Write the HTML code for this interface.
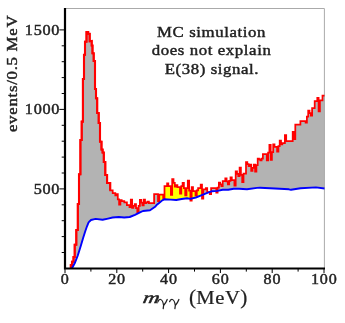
<!DOCTYPE html>
<html><head><meta charset="utf-8"><style>
html,body{margin:0;padding:0;background:#fff;}
body{width:345px;height:323px;overflow:hidden;position:relative;}
svg{position:absolute;left:0;top:0;will-change:transform;}
text{font-family:"Liberation Serif",serif;fill:#222;stroke:#222;stroke-width:0.42px;}
</style></head><body>
<svg width="345" height="323" viewBox="0 0 345 323">
<defs><clipPath id="yc"><rect x="158.5" y="150" width="43" height="80"/></clipPath></defs>
<polygon points="70.8,268.3 70.8,265.0 72.0,265.0 72.0,261.7 73.5,261.7 73.5,257.0 74.7,257.0 74.7,244.7 76.3,244.7 76.3,230.0 77.8,230.0 77.8,204.0 79.0,204.0 79.0,174.3 80.4,174.3 80.4,140.0 81.7,140.0 81.7,121.6 82.9,121.6 82.9,79.0 84.0,79.0 84.0,54.8 85.0,54.8 85.0,41.7 86.5,41.7 86.5,32.0 88.2,32.0 88.2,33.8 89.7,33.8 89.7,41.3 91.7,41.0 91.7,45.5 92.5,45.5 92.5,53.3 93.7,53.3 93.7,61.0 95.0,61.0 95.0,89.0 96.0,89.0 96.0,98.3 97.2,98.3 97.2,113.0 98.7,113.0 98.7,123.0 100.0,123.0 100.0,141.7 101.5,141.7 101.5,149.5 102.6,149.5 102.6,152.5 103.8,152.5 103.8,162.0 105.3,162.0 105.3,175.0 107.1,175.0 107.1,183.0 110.2,183.0 110.2,190.4 110.2,190.4 112.7,190.4 112.7,193.1 114.0,193.1 114.0,193.1 115.3,193.1 115.3,195.3 116.5,195.3 116.5,194.2 117.8,194.2 117.8,199.3 119.1,199.3 119.1,204.5 120.4,204.5 120.4,200.2 121.7,200.2 121.7,201.2 123.0,201.2 123.0,201.2 124.3,201.2 124.3,202.3 125.6,202.3 125.6,202.3 126.9,202.3 126.9,205.0 128.2,205.0 128.2,205.0 129.5,205.0 129.5,207.2 130.8,207.2 130.8,199.6 132.1,199.6 132.1,207.8 133.4,207.8 133.4,205.9 134.7,205.9 134.7,204.0 136.0,204.0 136.0,208.1 137.3,208.1 137.3,212.1 138.6,212.1 138.6,205.9 139.9,205.9 139.9,199.8 141.2,199.8 141.2,202.6 142.4,202.6 142.4,205.3 143.7,205.3 143.7,199.5 145.0,199.5 145.0,203.0 146.3,203.0 146.3,202.3 147.6,202.3 147.6,201.7 148.9,201.7 148.9,203.0 150.2,203.0 150.2,203.0 151.5,203.0 151.5,203.0 152.8,203.0 152.8,203.0 154.1,203.0 154.1,194.2 155.4,194.2 155.4,194.2 156.7,194.2 156.7,194.2 158.0,194.2 158.0,201.0 159.3,201.0 159.3,194.5 160.6,194.5 160.6,194.5 161.9,194.5 161.9,194.5 163.2,194.5 163.2,198.0 164.5,198.0 164.5,186.1 165.8,186.1 165.8,186.1 167.1,186.1 167.1,183.4 168.3,183.4 168.3,186.0 169.6,186.0 169.6,186.0 170.9,186.0 170.9,194.8 172.2,194.8 172.2,179.0 173.5,179.0 173.5,182.8 174.8,182.8 174.8,186.6 176.1,186.6 176.1,185.0 177.4,185.0 177.4,187.2 178.7,187.2 178.7,187.2 180.0,187.2 180.0,193.7 181.3,193.7 181.3,186.0 182.6,186.0 182.6,182.8 183.9,182.8 183.9,188.2 185.2,188.2 185.2,195.3 186.5,195.3 186.5,188.0 187.8,188.0 187.8,180.7 189.1,180.7 189.1,190.7 190.4,190.7 190.4,200.7 191.7,200.7 191.7,187.2 193.0,187.2 193.0,191.0 194.2,191.0 194.2,191.0 195.5,191.0 195.5,195.3 196.8,195.3 196.8,190.4 198.1,190.4 198.1,188.2 199.4,188.2 199.4,188.2 200.7,188.2 200.7,184.5 202.0,184.5 202.0,198.5 203.3,198.5 203.3,189.3 204.6,189.3 204.6,189.3 205.9,189.3 205.9,188.2 207.2,188.2 207.2,192.0 208.5,192.0 208.5,192.0 209.8,192.0 209.8,194.2 211.1,194.2 211.1,188.2 212.4,188.2 212.4,188.2 213.7,188.2 213.7,188.2 215.0,188.2 215.0,188.2 216.3,188.2 216.3,192.7 217.6,192.7 217.6,187.6 218.9,187.6 218.9,182.6 220.1,182.6 220.1,184.3 221.4,184.3 221.4,186.0 222.7,186.0 222.7,181.1 224.0,181.1 224.0,181.1 225.3,181.1 225.3,178.4 226.6,178.4 226.6,181.4 227.9,181.4 227.9,184.4 229.2,184.4 229.2,180.9 230.5,180.9 230.5,177.3 231.8,177.3 231.8,180.0 233.1,180.0 233.1,180.0 234.4,180.0 234.4,185.5 235.7,185.5 235.7,171.4 237.0,171.4 237.0,173.8 238.3,173.8 238.3,176.2 239.6,176.2 239.6,167.6 240.9,167.6 240.9,174.9 242.2,174.9 242.2,182.2 243.5,182.2 243.5,173.5 244.8,173.5 244.8,173.5 246.0,173.5 246.0,162.2 247.3,162.2 247.3,164.1 248.6,164.1 248.6,166.0 249.9,166.0 249.9,164.7 251.2,164.7 251.2,170.9 252.5,170.9 252.5,167.8 253.8,167.8 253.8,164.7 255.1,164.7 255.1,171.5 256.4,171.5 256.4,165.0 257.7,165.0 257.7,158.5 259.0,158.5 259.0,159.4 260.3,159.4 260.3,160.4 261.6,160.4 261.6,158.5 262.9,158.5 262.9,154.2 264.2,154.2 264.2,154.2 265.5,154.2 265.5,154.2 266.8,154.2 266.8,160.4 268.1,160.4 268.1,152.7 269.4,152.7 269.4,144.9 270.7,144.9 270.7,159.8 271.9,159.8 271.9,152.1 273.2,152.1 273.2,144.3 274.5,144.3 274.5,146.8 275.8,146.8 275.8,146.8 277.1,146.8 277.1,151.7 278.4,151.7 278.4,146.1 279.7,146.1 279.7,140.6 281.0,140.6 281.0,144.3 282.3,144.3 282.3,143.0 283.6,143.0 283.6,143.0 284.9,143.0 284.9,135.2 286.2,135.2 286.2,141.0 287.5,141.0 287.5,141.0 288.8,141.0 288.8,141.0 290.1,141.0 290.1,141.0 291.4,141.0 291.4,141.0 292.7,141.0 292.7,131.8 294.0,131.8 294.0,139.0 295.3,139.0 295.3,124.5 296.6,124.5 296.6,124.5 297.9,124.5 297.9,124.5 299.1,124.5 299.1,124.5 300.4,124.5 300.4,121.1 301.7,121.1 301.7,121.1 303.0,121.1 303.0,121.1 304.3,121.1 304.3,121.1 305.6,121.1 305.6,122.5 306.9,122.5 306.9,116.5 308.2,116.5 308.2,110.5 309.5,110.5 309.5,113.0 310.8,113.0 310.8,115.6 312.1,115.6 312.1,108.0 313.4,108.0 313.4,108.0 314.7,108.0 314.7,101.2 316.0,101.2 316.0,101.2 317.3,101.2 317.3,97.8 318.6,97.8 318.6,111.4 319.9,111.4 319.9,100.3 321.2,100.3 321.2,100.3 322.5,100.3 322.5,95.6 323.8,95.6 323.8,95.6 324.5,95.6 324.5,188.5 316.0,187.4 300.5,188.2 291.0,189.8 289.0,189.3 275.0,188.5 260.0,187.7 257.0,187.9 247.0,189.2 239.0,188.7 233.7,188.7 228.2,189.8 222.8,189.8 217.4,190.9 212.0,191.2 206.7,193.1 201.2,195.3 195.8,197.5 190.4,198.9 187.0,198.2 181.7,199.0 176.2,200.0 170.8,199.6 164.3,199.3 162.2,200.4 160.0,202.3 156.6,205.0 155.5,206.4 150.0,210.3 143.0,211.0 140.5,212.1 135.0,214.8 129.7,217.0 124.2,217.5 118.8,217.0 112.6,217.5 108.0,218.6 102.6,219.8 95.6,218.9 91.0,220.0 88.6,222.4 87.0,226.3 85.5,230.5 83.2,237.7 80.9,245.5 77.8,255.5 74.7,263.3 72.0,268.3" fill="#b3b3b3"/>
<polygon points="70.8,268.3 70.8,265.0 72.0,265.0 72.0,261.7 73.5,261.7 73.5,257.0 74.7,257.0 74.7,244.7 76.3,244.7 76.3,230.0 77.8,230.0 77.8,204.0 79.0,204.0 79.0,174.3 80.4,174.3 80.4,140.0 81.7,140.0 81.7,121.6 82.9,121.6 82.9,79.0 84.0,79.0 84.0,54.8 85.0,54.8 85.0,41.7 86.5,41.7 86.5,32.0 88.2,32.0 88.2,33.8 89.7,33.8 89.7,41.3 91.7,41.0 91.7,45.5 92.5,45.5 92.5,53.3 93.7,53.3 93.7,61.0 95.0,61.0 95.0,89.0 96.0,89.0 96.0,98.3 97.2,98.3 97.2,113.0 98.7,113.0 98.7,123.0 100.0,123.0 100.0,141.7 101.5,141.7 101.5,149.5 102.6,149.5 102.6,152.5 103.8,152.5 103.8,162.0 105.3,162.0 105.3,175.0 107.1,175.0 107.1,183.0 110.2,183.0 110.2,190.4 110.2,190.4 112.7,190.4 112.7,193.1 114.0,193.1 114.0,193.1 115.3,193.1 115.3,195.3 116.5,195.3 116.5,194.2 117.8,194.2 117.8,199.3 119.1,199.3 119.1,204.5 120.4,204.5 120.4,200.2 121.7,200.2 121.7,201.2 123.0,201.2 123.0,201.2 124.3,201.2 124.3,202.3 125.6,202.3 125.6,202.3 126.9,202.3 126.9,205.0 128.2,205.0 128.2,205.0 129.5,205.0 129.5,207.2 130.8,207.2 130.8,199.6 132.1,199.6 132.1,207.8 133.4,207.8 133.4,205.9 134.7,205.9 134.7,204.0 136.0,204.0 136.0,208.1 137.3,208.1 137.3,212.1 138.6,212.1 138.6,205.9 139.9,205.9 139.9,199.8 141.2,199.8 141.2,202.6 142.4,202.6 142.4,205.3 143.7,205.3 143.7,199.5 145.0,199.5 145.0,203.0 146.3,203.0 146.3,202.3 147.6,202.3 147.6,201.7 148.9,201.7 148.9,203.0 150.2,203.0 150.2,203.0 151.5,203.0 151.5,203.0 152.8,203.0 152.8,203.0 154.1,203.0 154.1,194.2 155.4,194.2 155.4,194.2 156.7,194.2 156.7,194.2 158.0,194.2 158.0,201.0 159.3,201.0 159.3,194.5 160.6,194.5 160.6,194.5 161.9,194.5 161.9,194.5 163.2,194.5 163.2,198.0 164.5,198.0 164.5,186.1 165.8,186.1 165.8,186.1 167.1,186.1 167.1,183.4 168.3,183.4 168.3,186.0 169.6,186.0 169.6,186.0 170.9,186.0 170.9,194.8 172.2,194.8 172.2,179.0 173.5,179.0 173.5,182.8 174.8,182.8 174.8,186.6 176.1,186.6 176.1,185.0 177.4,185.0 177.4,187.2 178.7,187.2 178.7,187.2 180.0,187.2 180.0,193.7 181.3,193.7 181.3,186.0 182.6,186.0 182.6,182.8 183.9,182.8 183.9,188.2 185.2,188.2 185.2,195.3 186.5,195.3 186.5,188.0 187.8,188.0 187.8,180.7 189.1,180.7 189.1,190.7 190.4,190.7 190.4,200.7 191.7,200.7 191.7,187.2 193.0,187.2 193.0,191.0 194.2,191.0 194.2,191.0 195.5,191.0 195.5,195.3 196.8,195.3 196.8,190.4 198.1,190.4 198.1,188.2 199.4,188.2 199.4,188.2 200.7,188.2 200.7,184.5 202.0,184.5 202.0,198.5 203.3,198.5 203.3,189.3 204.6,189.3 204.6,189.3 205.9,189.3 205.9,188.2 207.2,188.2 207.2,192.0 208.5,192.0 208.5,192.0 209.8,192.0 209.8,194.2 211.1,194.2 211.1,188.2 212.4,188.2 212.4,188.2 213.7,188.2 213.7,188.2 215.0,188.2 215.0,188.2 216.3,188.2 216.3,192.7 217.6,192.7 217.6,187.6 218.9,187.6 218.9,182.6 220.1,182.6 220.1,184.3 221.4,184.3 221.4,186.0 222.7,186.0 222.7,181.1 224.0,181.1 224.0,181.1 225.3,181.1 225.3,178.4 226.6,178.4 226.6,181.4 227.9,181.4 227.9,184.4 229.2,184.4 229.2,180.9 230.5,180.9 230.5,177.3 231.8,177.3 231.8,180.0 233.1,180.0 233.1,180.0 234.4,180.0 234.4,185.5 235.7,185.5 235.7,171.4 237.0,171.4 237.0,173.8 238.3,173.8 238.3,176.2 239.6,176.2 239.6,167.6 240.9,167.6 240.9,174.9 242.2,174.9 242.2,182.2 243.5,182.2 243.5,173.5 244.8,173.5 244.8,173.5 246.0,173.5 246.0,162.2 247.3,162.2 247.3,164.1 248.6,164.1 248.6,166.0 249.9,166.0 249.9,164.7 251.2,164.7 251.2,170.9 252.5,170.9 252.5,167.8 253.8,167.8 253.8,164.7 255.1,164.7 255.1,171.5 256.4,171.5 256.4,165.0 257.7,165.0 257.7,158.5 259.0,158.5 259.0,159.4 260.3,159.4 260.3,160.4 261.6,160.4 261.6,158.5 262.9,158.5 262.9,154.2 264.2,154.2 264.2,154.2 265.5,154.2 265.5,154.2 266.8,154.2 266.8,160.4 268.1,160.4 268.1,152.7 269.4,152.7 269.4,144.9 270.7,144.9 270.7,159.8 271.9,159.8 271.9,152.1 273.2,152.1 273.2,144.3 274.5,144.3 274.5,146.8 275.8,146.8 275.8,146.8 277.1,146.8 277.1,151.7 278.4,151.7 278.4,146.1 279.7,146.1 279.7,140.6 281.0,140.6 281.0,144.3 282.3,144.3 282.3,143.0 283.6,143.0 283.6,143.0 284.9,143.0 284.9,135.2 286.2,135.2 286.2,141.0 287.5,141.0 287.5,141.0 288.8,141.0 288.8,141.0 290.1,141.0 290.1,141.0 291.4,141.0 291.4,141.0 292.7,141.0 292.7,131.8 294.0,131.8 294.0,139.0 295.3,139.0 295.3,124.5 296.6,124.5 296.6,124.5 297.9,124.5 297.9,124.5 299.1,124.5 299.1,124.5 300.4,124.5 300.4,121.1 301.7,121.1 301.7,121.1 303.0,121.1 303.0,121.1 304.3,121.1 304.3,121.1 305.6,121.1 305.6,122.5 306.9,122.5 306.9,116.5 308.2,116.5 308.2,110.5 309.5,110.5 309.5,113.0 310.8,113.0 310.8,115.6 312.1,115.6 312.1,108.0 313.4,108.0 313.4,108.0 314.7,108.0 314.7,101.2 316.0,101.2 316.0,101.2 317.3,101.2 317.3,97.8 318.6,97.8 318.6,111.4 319.9,111.4 319.9,100.3 321.2,100.3 321.2,100.3 322.5,100.3 322.5,95.6 323.8,95.6 323.8,95.6 324.5,95.6 324.5,188.5 316.0,187.4 300.5,188.2 291.0,189.8 289.0,189.3 275.0,188.5 260.0,187.7 257.0,187.9 247.0,189.2 239.0,188.7 233.7,188.7 228.2,189.8 222.8,189.8 217.4,190.9 212.0,191.2 206.7,193.1 201.2,195.3 195.8,197.5 190.4,198.9 187.0,198.2 181.7,199.0 176.2,200.0 170.8,199.6 164.3,199.3 162.2,200.4 160.0,202.3 156.6,205.0 155.5,206.4 150.0,210.3 143.0,211.0 140.5,212.1 135.0,214.8 129.7,217.0 124.2,217.5 118.8,217.0 112.6,217.5 108.0,218.6 102.6,219.8 95.6,218.9 91.0,220.0 88.6,222.4 87.0,226.3 85.5,230.5 83.2,237.7 80.9,245.5 77.8,255.5 74.7,263.3 72.0,268.3" fill="#ffff00" clip-path="url(#yc)"/>
<polyline points="65,8.5 324.4,8.5 324.4,268" fill="none" stroke="#aaaaaa" stroke-width="1"/>
<polyline points="70.8,268.3 70.8,265.0 72.0,265.0 72.0,261.7 73.5,261.7 73.5,257.0 74.7,257.0 74.7,244.7 76.3,244.7 76.3,230.0 77.8,230.0 77.8,204.0 79.0,204.0 79.0,174.3 80.4,174.3 80.4,140.0 81.7,140.0 81.7,121.6 82.9,121.6 82.9,79.0 84.0,79.0 84.0,54.8 85.0,54.8 85.0,41.7 86.5,41.7 86.5,32.0 88.2,32.0 88.2,33.8 89.7,33.8 89.7,41.3 91.7,41.0 91.7,45.5 92.5,45.5 92.5,53.3 93.7,53.3 93.7,61.0 95.0,61.0 95.0,89.0 96.0,89.0 96.0,98.3 97.2,98.3 97.2,113.0 98.7,113.0 98.7,123.0 100.0,123.0 100.0,141.7 101.5,141.7 101.5,149.5 102.6,149.5 102.6,152.5 103.8,152.5 103.8,162.0 105.3,162.0 105.3,175.0 107.1,175.0 107.1,183.0 110.2,183.0 110.2,190.4 110.2,190.4 112.7,190.4 112.7,193.1 114.0,193.1 114.0,193.1 115.3,193.1 115.3,195.3 116.5,195.3 116.5,194.2 117.8,194.2 117.8,199.3 119.1,199.3 119.1,204.5 120.4,204.5 120.4,200.2 121.7,200.2 121.7,201.2 123.0,201.2 123.0,201.2 124.3,201.2 124.3,202.3 125.6,202.3 125.6,202.3 126.9,202.3 126.9,205.0 128.2,205.0 128.2,205.0 129.5,205.0 129.5,207.2 130.8,207.2 130.8,199.6 132.1,199.6 132.1,207.8 133.4,207.8 133.4,205.9 134.7,205.9 134.7,204.0 136.0,204.0 136.0,208.1 137.3,208.1 137.3,212.1 138.6,212.1 138.6,205.9 139.9,205.9 139.9,199.8 141.2,199.8 141.2,202.6 142.4,202.6 142.4,205.3 143.7,205.3 143.7,199.5 145.0,199.5 145.0,203.0 146.3,203.0 146.3,202.3 147.6,202.3 147.6,201.7 148.9,201.7 148.9,203.0 150.2,203.0 150.2,203.0 151.5,203.0 151.5,203.0 152.8,203.0 152.8,203.0 154.1,203.0 154.1,194.2 155.4,194.2 155.4,194.2 156.7,194.2 156.7,194.2 158.0,194.2 158.0,201.0 159.3,201.0 159.3,194.5 160.6,194.5 160.6,194.5 161.9,194.5 161.9,194.5 163.2,194.5 163.2,198.0 164.5,198.0 164.5,186.1 165.8,186.1 165.8,186.1 167.1,186.1 167.1,183.4 168.3,183.4 168.3,186.0 169.6,186.0 169.6,186.0 170.9,186.0 170.9,194.8 172.2,194.8 172.2,179.0 173.5,179.0 173.5,182.8 174.8,182.8 174.8,186.6 176.1,186.6 176.1,185.0 177.4,185.0 177.4,187.2 178.7,187.2 178.7,187.2 180.0,187.2 180.0,193.7 181.3,193.7 181.3,186.0 182.6,186.0 182.6,182.8 183.9,182.8 183.9,188.2 185.2,188.2 185.2,195.3 186.5,195.3 186.5,188.0 187.8,188.0 187.8,180.7 189.1,180.7 189.1,190.7 190.4,190.7 190.4,200.7 191.7,200.7 191.7,187.2 193.0,187.2 193.0,191.0 194.2,191.0 194.2,191.0 195.5,191.0 195.5,195.3 196.8,195.3 196.8,190.4 198.1,190.4 198.1,188.2 199.4,188.2 199.4,188.2 200.7,188.2 200.7,184.5 202.0,184.5 202.0,198.5 203.3,198.5 203.3,189.3 204.6,189.3 204.6,189.3 205.9,189.3 205.9,188.2 207.2,188.2 207.2,192.0 208.5,192.0 208.5,192.0 209.8,192.0 209.8,194.2 211.1,194.2 211.1,188.2 212.4,188.2 212.4,188.2 213.7,188.2 213.7,188.2 215.0,188.2 215.0,188.2 216.3,188.2 216.3,192.7 217.6,192.7 217.6,187.6 218.9,187.6 218.9,182.6 220.1,182.6 220.1,184.3 221.4,184.3 221.4,186.0 222.7,186.0 222.7,181.1 224.0,181.1 224.0,181.1 225.3,181.1 225.3,178.4 226.6,178.4 226.6,181.4 227.9,181.4 227.9,184.4 229.2,184.4 229.2,180.9 230.5,180.9 230.5,177.3 231.8,177.3 231.8,180.0 233.1,180.0 233.1,180.0 234.4,180.0 234.4,185.5 235.7,185.5 235.7,171.4 237.0,171.4 237.0,173.8 238.3,173.8 238.3,176.2 239.6,176.2 239.6,167.6 240.9,167.6 240.9,174.9 242.2,174.9 242.2,182.2 243.5,182.2 243.5,173.5 244.8,173.5 244.8,173.5 246.0,173.5 246.0,162.2 247.3,162.2 247.3,164.1 248.6,164.1 248.6,166.0 249.9,166.0 249.9,164.7 251.2,164.7 251.2,170.9 252.5,170.9 252.5,167.8 253.8,167.8 253.8,164.7 255.1,164.7 255.1,171.5 256.4,171.5 256.4,165.0 257.7,165.0 257.7,158.5 259.0,158.5 259.0,159.4 260.3,159.4 260.3,160.4 261.6,160.4 261.6,158.5 262.9,158.5 262.9,154.2 264.2,154.2 264.2,154.2 265.5,154.2 265.5,154.2 266.8,154.2 266.8,160.4 268.1,160.4 268.1,152.7 269.4,152.7 269.4,144.9 270.7,144.9 270.7,159.8 271.9,159.8 271.9,152.1 273.2,152.1 273.2,144.3 274.5,144.3 274.5,146.8 275.8,146.8 275.8,146.8 277.1,146.8 277.1,151.7 278.4,151.7 278.4,146.1 279.7,146.1 279.7,140.6 281.0,140.6 281.0,144.3 282.3,144.3 282.3,143.0 283.6,143.0 283.6,143.0 284.9,143.0 284.9,135.2 286.2,135.2 286.2,141.0 287.5,141.0 287.5,141.0 288.8,141.0 288.8,141.0 290.1,141.0 290.1,141.0 291.4,141.0 291.4,141.0 292.7,141.0 292.7,131.8 294.0,131.8 294.0,139.0 295.3,139.0 295.3,124.5 296.6,124.5 296.6,124.5 297.9,124.5 297.9,124.5 299.1,124.5 299.1,124.5 300.4,124.5 300.4,121.1 301.7,121.1 301.7,121.1 303.0,121.1 303.0,121.1 304.3,121.1 304.3,121.1 305.6,121.1 305.6,122.5 306.9,122.5 306.9,116.5 308.2,116.5 308.2,110.5 309.5,110.5 309.5,113.0 310.8,113.0 310.8,115.6 312.1,115.6 312.1,108.0 313.4,108.0 313.4,108.0 314.7,108.0 314.7,101.2 316.0,101.2 316.0,101.2 317.3,101.2 317.3,97.8 318.6,97.8 318.6,111.4 319.9,111.4 319.9,100.3 321.2,100.3 321.2,100.3 322.5,100.3 322.5,95.6 323.8,95.6 323.8,95.6 324.5,95.6" fill="none" stroke="#ff0000" stroke-width="1.75" stroke-linejoin="miter"/>
<polyline points="70.8,268.3 70.8,265.0 72.0,265.0 72.0,261.7 73.5,261.7 73.5,257.0 74.7,257.0 74.7,244.7 76.3,244.7 76.3,230.0 77.8,230.0 77.8,204.0 79.0,204.0 79.0,174.3 80.4,174.3 80.4,140.0 81.7,140.0 81.7,121.6 82.9,121.6 82.9,79.0 84.0,79.0 84.0,54.8 85.0,54.8 85.0,41.7 86.5,41.7 86.5,32.0 88.2,32.0 88.2,33.8 89.7,33.8 89.7,41.3 91.7,41.0 91.7,45.5 92.5,45.5 92.5,53.3 93.7,53.3 93.7,61.0 95.0,61.0 95.0,89.0 96.0,89.0 96.0,98.3 97.2,98.3 97.2,113.0 98.7,113.0 98.7,123.0 100.0,123.0 100.0,141.7 101.5,141.7 101.5,149.5 102.6,149.5 102.6,152.5 103.8,152.5 103.8,162.0 105.3,162.0 105.3,175.0 107.1,175.0 107.1,183.0 110.2,183.0 110.2,190.4" fill="none" stroke="#ff0000" stroke-width="2.1" stroke-linejoin="miter"/>
<polyline points="72.0,268.3 74.7,263.3 77.8,255.5 80.9,245.5 83.2,237.7 85.5,230.5 87.0,226.3 88.6,222.4 91.0,220.0 95.6,218.9 102.6,219.8 108.0,218.6 112.6,217.5 118.8,217.0 124.2,217.5 129.7,217.0 135.0,214.8 140.5,212.1 143.0,211.0 150.0,210.3 155.5,206.4 156.6,205.0 160.0,202.3 162.2,200.4 164.3,199.3 170.8,199.6 176.2,200.0 181.7,199.0 187.0,198.2 190.4,198.9 195.8,197.5 201.2,195.3 206.7,193.1 212.0,191.2 217.4,190.9 222.8,189.8 228.2,189.8 233.7,188.7 239.0,188.7 247.0,189.2 257.0,187.9 260.0,187.7 275.0,188.5 289.0,189.3 291.0,189.8 300.5,188.2 316.0,187.4 324.5,188.5" fill="none" stroke="#0000ff" stroke-width="1.9" stroke-linejoin="round"/>
<g stroke="#000" stroke-width="1"><line x1="65.0" y1="269" x2="65.0" y2="273.0"/><line x1="90.9" y1="269" x2="90.9" y2="271.6"/><line x1="116.8" y1="269" x2="116.8" y2="273.0"/><line x1="142.7" y1="269" x2="142.7" y2="271.6"/><line x1="168.6" y1="269" x2="168.6" y2="273.0"/><line x1="194.5" y1="269" x2="194.5" y2="271.6"/><line x1="220.4" y1="269" x2="220.4" y2="273.0"/><line x1="246.3" y1="269" x2="246.3" y2="271.6"/><line x1="272.2" y1="269" x2="272.2" y2="273.0"/><line x1="298.1" y1="269" x2="298.1" y2="271.6"/><line x1="324.0" y1="269" x2="324.0" y2="273.0"/><line x1="61.7" y1="252.5" x2="64.5" y2="252.5"/><line x1="61.7" y1="236.6" x2="64.5" y2="236.6"/><line x1="61.7" y1="220.7" x2="64.5" y2="220.7"/><line x1="61.7" y1="204.8" x2="64.5" y2="204.8"/><line x1="59.3" y1="188.9" x2="64.5" y2="188.9"/><line x1="61.7" y1="173.0" x2="64.5" y2="173.0"/><line x1="61.7" y1="157.1" x2="64.5" y2="157.1"/><line x1="61.7" y1="141.2" x2="64.5" y2="141.2"/><line x1="61.7" y1="125.3" x2="64.5" y2="125.3"/><line x1="59.3" y1="109.4" x2="64.5" y2="109.4"/><line x1="61.7" y1="93.5" x2="64.5" y2="93.5"/><line x1="61.7" y1="77.6" x2="64.5" y2="77.6"/><line x1="61.7" y1="61.7" x2="64.5" y2="61.7"/><line x1="61.7" y1="45.8" x2="64.5" y2="45.8"/><line x1="59.3" y1="29.9" x2="64.5" y2="29.9"/></g>
<polyline points="65,8 65,268.5 325,268.5" fill="none" stroke="#000" stroke-width="2.2"/>
<text transform="translate(65.30,283.80) scale(1.15,1)" font-size="14" text-anchor="middle" letter-spacing="0.75" word-spacing="0" >0</text><text transform="translate(117.10,283.80) scale(1.15,1)" font-size="14" text-anchor="middle" letter-spacing="0.75" word-spacing="0" >20</text><text transform="translate(168.90,283.80) scale(1.15,1)" font-size="14" text-anchor="middle" letter-spacing="0.75" word-spacing="0" >40</text><text transform="translate(220.70,283.80) scale(1.15,1)" font-size="14" text-anchor="middle" letter-spacing="0.75" word-spacing="0" >60</text><text transform="translate(272.50,283.80) scale(1.15,1)" font-size="14" text-anchor="middle" letter-spacing="0.75" word-spacing="0" >80</text><text transform="translate(324.30,283.80) scale(1.15,1)" font-size="14" text-anchor="middle" letter-spacing="0.75" word-spacing="0" >100</text><text transform="translate(60.10,193.80) scale(1.16,1)" font-size="14" text-anchor="end" letter-spacing="0.6" word-spacing="0" >500</text><text transform="translate(60.10,114.30) scale(1.16,1)" font-size="14" text-anchor="end" letter-spacing="0.6" word-spacing="0" >1000</text><text transform="translate(60.10,34.80) scale(1.16,1)" font-size="14" text-anchor="end" letter-spacing="0.6" word-spacing="0" >1500</text><text transform="translate(211.60,36.70) scale(1.2,1)" font-size="14" text-anchor="middle" letter-spacing="0.5" word-spacing="0" >MC simulation</text><text transform="translate(211.60,55.20) scale(1.2,1)" font-size="14" text-anchor="middle" letter-spacing="0.5" word-spacing="0" >does not explain</text><text transform="translate(211.90,73.80) scale(1.2,1)" font-size="14" text-anchor="middle" letter-spacing="0.5" word-spacing="0" >E(38) signal.</text><text transform="translate(17.00,73.40) rotate(-90) scale(1.2,1)" font-size="14" text-anchor="middle" letter-spacing="0.6" word-spacing="0" >events/0.5 MeV</text><text transform="translate(142.20,302.90) scale(1.4,1) skewX(-8)" font-size="16.3" text-anchor="start" letter-spacing="0" word-spacing="0" font-style="italic">m</text><text transform="translate(196.30,303.70) scale(1.16,1)" font-size="17.8" text-anchor="start" letter-spacing="0.5" word-spacing="0" style="stroke-width:0.22px">MeV</text><text transform="translate(188.90,303.90) scale(1.05,1)" font-size="20.3" text-anchor="start" letter-spacing="0" word-spacing="0" style="stroke-width:0.22px">(</text><text transform="translate(247.30,303.90) scale(1.05,1)" font-size="20.3" text-anchor="end" letter-spacing="0" word-spacing="0" style="stroke-width:0.22px">)</text><g transform="translate(157.6,299.1)"><path d="M0.3,2.6 C0.8,0.9 2.0,0.2 3.1,0.4 C4.6,0.8 5.6,3.6 6.0,6.4 L5.6,9.6 M9.6,0.4 C8.8,2.6 7.4,4.8 6.0,6.4" fill="none" stroke="#222" stroke-width="1.25" stroke-linecap="round" stroke-linejoin="round"/></g><g transform="translate(169.3,299.1)"><path d="M0.3,2.6 C0.8,0.9 2.0,0.2 3.1,0.4 C4.6,0.8 5.6,3.6 6.0,6.4 L5.6,9.6 M9.6,0.4 C8.8,2.6 7.4,4.8 6.0,6.4" fill="none" stroke="#222" stroke-width="1.25" stroke-linecap="round" stroke-linejoin="round"/></g>
</svg>
</body></html>
